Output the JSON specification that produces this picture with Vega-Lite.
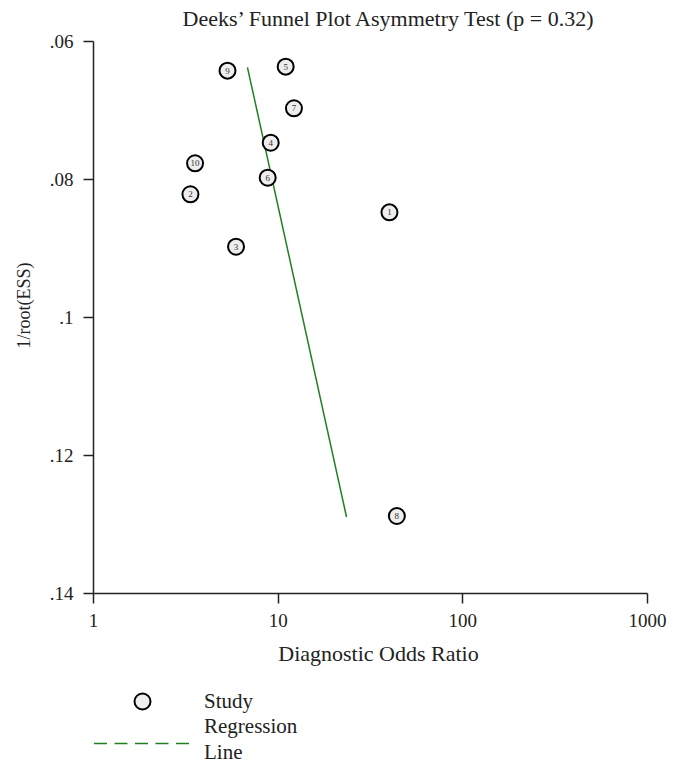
{
  "$schema": "https://vega.github.io/schema/vega-lite/v6.json",
  "width": 554,
  "height": 552,
  "autosize": {"type": "none"},
  "padding": {"left": 93, "top": 41, "right": 33, "bottom": 180},
  "background": "white",
  "title": {
    "text": "Deeks’ Funnel Plot Asymmetry Test (p = 0.32)",
    "font": "Liberation Serif",
    "fontSize": 22,
    "fontWeight": "normal",
    "color": "#222",
    "anchor": "middle",
    "dx": 18,
    "offset": 1
  },
  "config": {
    "view": {"stroke": null},
    "axis": {
      "domainColor": "#222",
      "domainWidth": 1.5,
      "tickColor": "#222",
      "tickWidth": 1.5,
      "tickSize": 10,
      "grid": false,
      "labelFont": "Liberation Serif",
      "labelFontSize": 19,
      "labelColor": "#222",
      "titleFont": "Liberation Serif",
      "titleFontSize": 19,
      "titleFontWeight": "normal",
      "titleColor": "#222"
    },
    "legend": {
      "labelFont": "Liberation Serif",
      "labelFontSize": 21,
      "labelColor": "#222"
    }
  },
  "datasets": {
    "points": [
      {"study": "1", "dor": 40.3, "inv_root_ess": 0.08483},
      {"study": "2", "dor": 3.37, "inv_root_ess": 0.08222},
      {"study": "3", "dor": 5.95, "inv_root_ess": 0.08981},
      {"study": "4", "dor": 9.17, "inv_root_ess": 0.07474},
      {"study": "5", "dor": 11.05, "inv_root_ess": 0.06372},
      {"study": "6", "dor": 8.83, "inv_root_ess": 0.07981},
      {"study": "7", "dor": 12.25, "inv_root_ess": 0.06975},
      {"study": "8", "dor": 44.2, "inv_root_ess": 0.12884},
      {"study": "9", "dor": 5.35, "inv_root_ess": 0.0643},
      {"study": "10", "dor": 3.57, "inv_root_ess": 0.07772}
    ],
    "line": [
      {"dor": 6.86, "inv_root_ess": 0.06381},
      {"dor": 23.6, "inv_root_ess": 0.12899}
    ]
  },
  "layer": [
    {
      "data": {"name": "line"},
      "mark": {"type": "line", "strokeWidth": 1.5},
      "encoding": {
        "x": {
          "field": "dor",
          "type": "quantitative",
          "scale": {"type": "log", "domain": [1, 1000], "nice": false},
          "axis": {
            "values": [1, 10, 100, 1000],
            "format": "d",
            "title": "Diagnostic Odds Ratio",
            "titleFontSize": 22,
            "titleX": 285,
            "labelPadding": 8,
            "titlePadding": 13,
            "labelFlush": false,
            "labelOverlap": false,
            "labelBound": false
          }
        },
        "y": {
          "field": "inv_root_ess",
          "type": "quantitative",
          "scale": {"domain": [0.06, 0.14], "reverse": true, "zero": false, "nice": false},
          "axis": {
            "values": [0.06, 0.08, 0.1, 0.12, 0.14],
            "labelExpr": "replace(format(datum.value, '.2~f'), '0.', '.')",
            "title": "1/root(ESS)",
            "titleFontSize": 18,
            "titleY": 264,
            "labelPadding": 10,
            "titlePadding": 16,
            "labelFlush": false,
            "labelOverlap": false
          }
        },
        "color": {
          "datum": "Regression Line",
          "scale": {"range": ["#207f20"]},
          "legend": {
            "orient": "none",
            "legendX": 0,
            "legendY": 654,
            "title": null,
            "symbolType": "stroke",
            "symbolSize": 9025,
            "symbolStrokeWidth": 1.5,
            "symbolDash": [13, 7.5],
            "labelOffset": 14,
            "labelExpr": "['Regression', 'Line']",
            "encode": {"labels": {"update": {"lineHeight": {"value": 26}, "dy": {"value": -17}}}}
          }
        }
      }
    },
    {
      "data": {"name": "points"},
      "mark": {"type": "point", "shape": "circle", "filled": true, "fill": "#eeeeee", "strokeWidth": 2, "size": 256, "opacity": 1},
      "encoding": {
        "x": {"field": "dor", "type": "quantitative"},
        "y": {"field": "inv_root_ess", "type": "quantitative"},
        "stroke": {
          "datum": "Study",
          "scale": {"range": ["black"]},
          "legend": {
            "orient": "none",
            "legendX": 39,
            "legendY": 650,
            "title": null,
            "symbolType": "circle",
            "symbolSize": 256,
            "symbolFillColor": "#eeeeee",
            "symbolStrokeWidth": 2,
            "labelOffset": 51,
            "encode": {"symbols": {"update": {"fill": {"value": "#eeeeee"}, "stroke": {"value": "black"}, "strokeWidth": {"value": 2}, "opacity": {"value": 1}}}}
          }
        }
      }
    },
    {
      "data": {"name": "points"},
      "mark": {"type": "text", "fontSize": 9, "font": "Liberation Serif", "color": "#333"},
      "encoding": {
        "x": {"field": "dor", "type": "quantitative"},
        "y": {"field": "inv_root_ess", "type": "quantitative"},
        "text": {"field": "study"}
      }
    }
  ]
}
